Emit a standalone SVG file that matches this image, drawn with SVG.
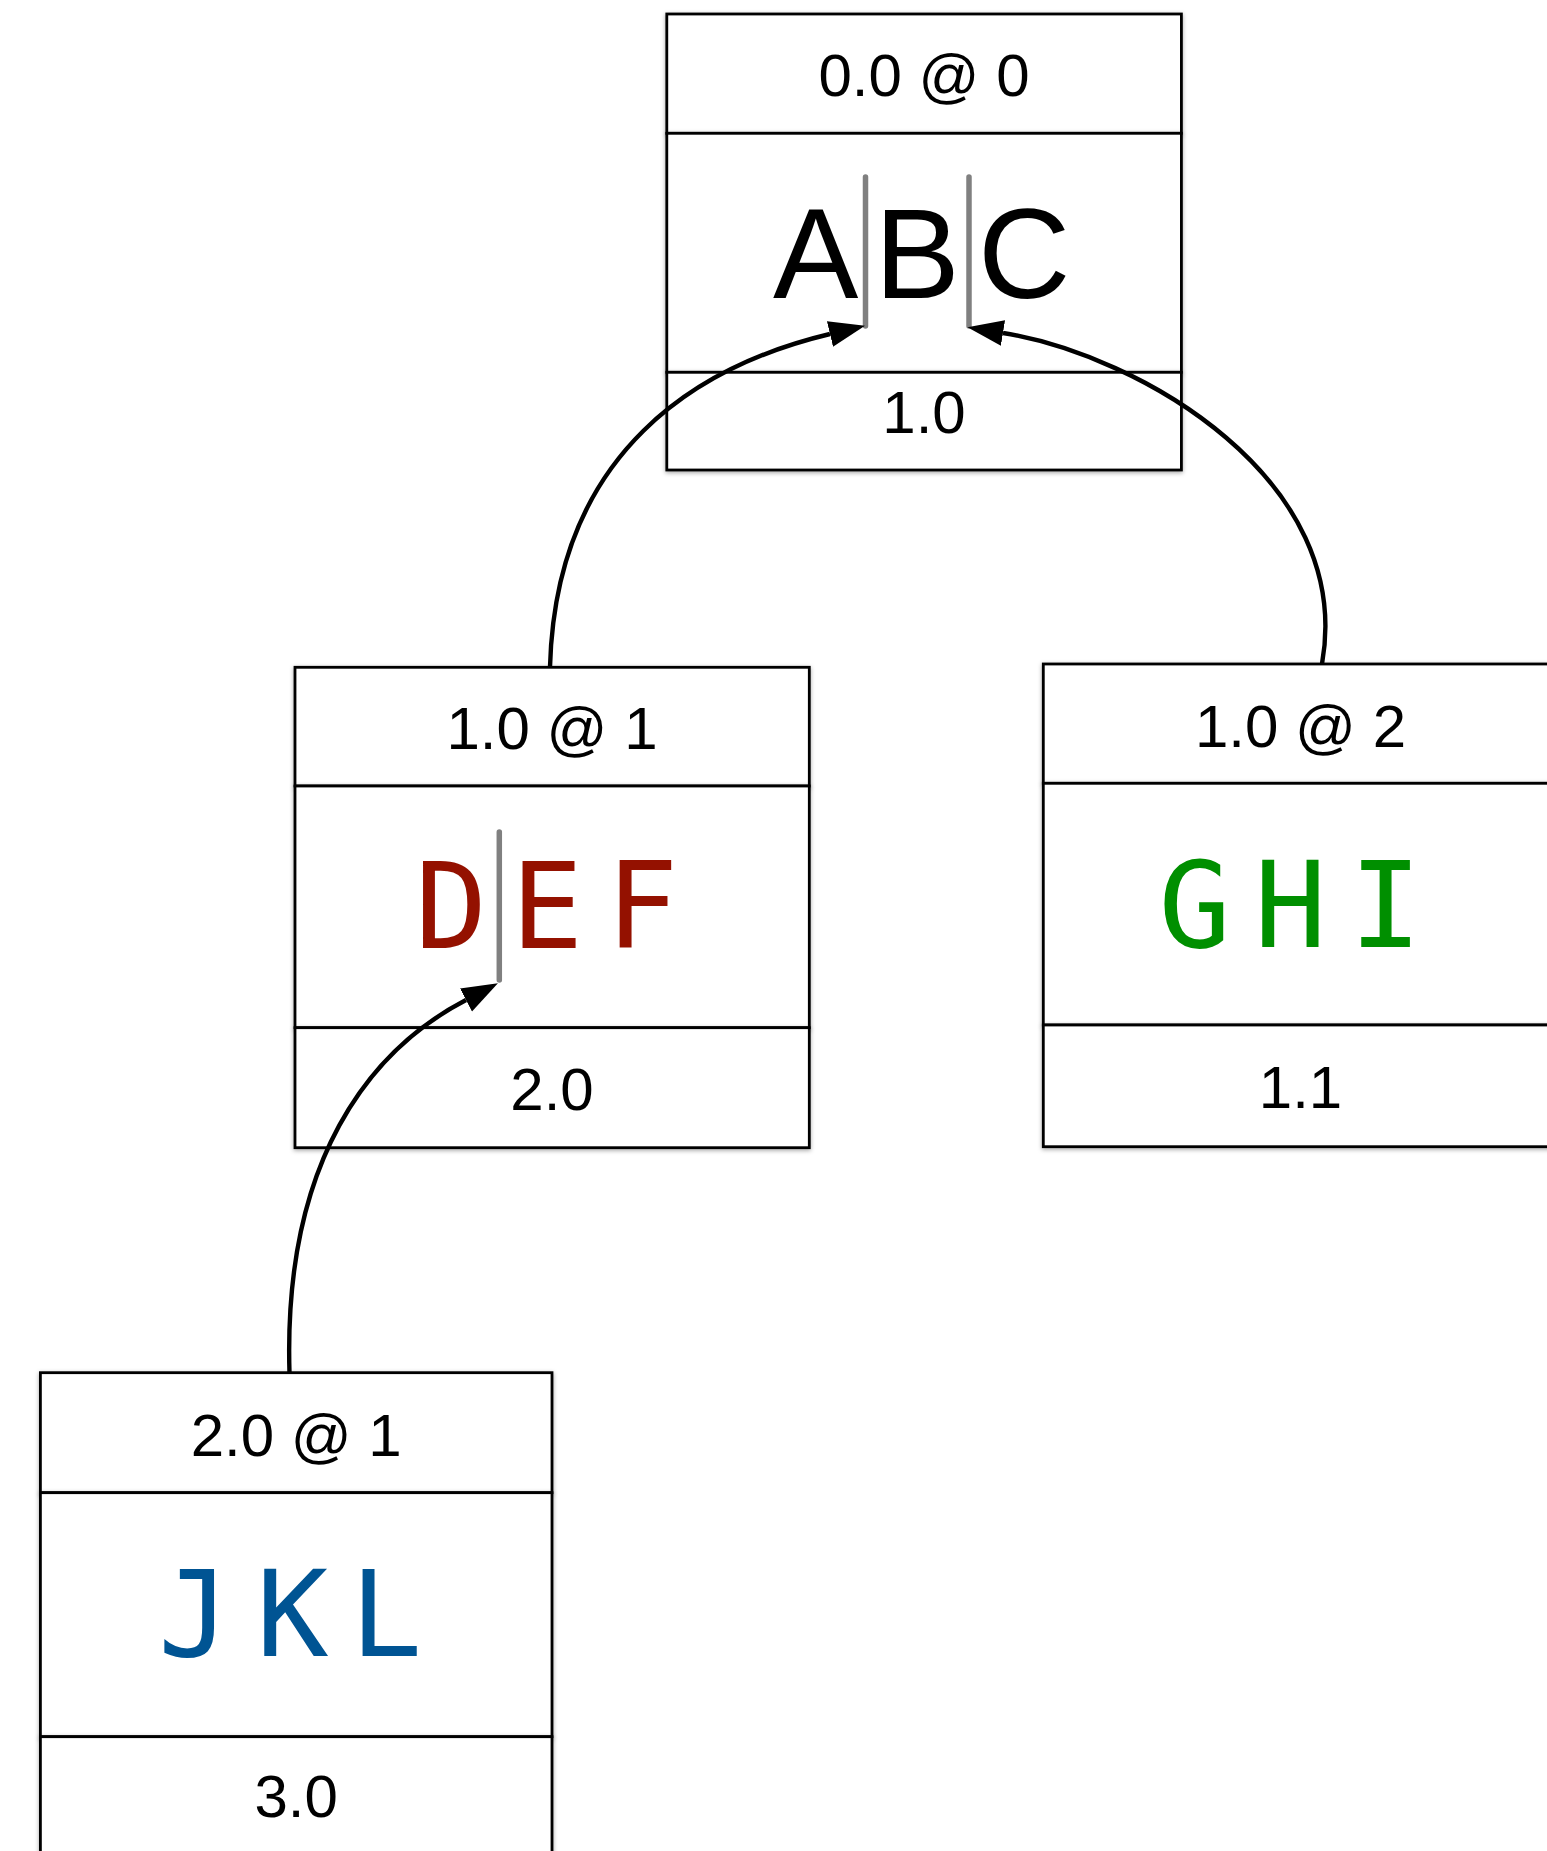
<svg xmlns="http://www.w3.org/2000/svg" width="1547" height="1851" viewBox="0 0 1547 1851">
  <style>
    .cell { fill: #ffffff; stroke: #000000; stroke-width: 2.8; filter: url(#shadow); }
    .lbl { font-family: "Liberation Sans", Arial, Helvetica, sans-serif; font-size: 60px; fill: #000000; text-anchor: middle; }
    .big { font-family: "Liberation Sans", Arial, Helvetica, sans-serif; font-size: 128px; fill: #000000; }
    .mono { font-family: "DejaVu Sans Mono", "Liberation Mono", monospace; font-size: 120px; text-anchor: middle; }
    .cursor { stroke: #808080; stroke-width: 5.5; stroke-linecap: round; fill: none; }
    .edge { fill: none; stroke: #000000; stroke-width: 4.4; marker-end: url(#arrow); }
  </style>
  <defs>
    <filter id="shadow" x="-5%" y="-5%" width="110%" height="115%">
      <feDropShadow dx="0" dy="1.5" stdDeviation="2" flood-color="#000000" flood-opacity="0.35"/>
    </filter>
    <marker id="arrow" markerUnits="userSpaceOnUse" markerWidth="38" markerHeight="28" refX="0" refY="13" orient="auto">
      <path d="M0,0 L36,13 L0,26 Z" fill="#000000"/>
    </marker>
  </defs>
  <rect width="1547" height="1851" fill="#ffffff"/>

  <!-- root node -->
  <g id="node-abc">
    <rect class="cell" x="666.8" y="14" width="514.6" height="119.3"/>
    <rect class="cell" x="666.8" y="133.3" width="514.6" height="239"/>
    <rect class="cell" x="666.8" y="372.3" width="514.6" height="97.7"/>
    <text class="lbl" x="924" y="96">0.0 @ 0</text>
    <text class="big" y="298"><tspan x="773">A</tspan><tspan x="874.5">B</tspan><tspan x="978">C</tspan></text>
    <line class="cursor" x1="865.5" y1="177" x2="865.5" y2="326"/>
    <line class="cursor" x1="969" y1="177" x2="969" y2="326"/>
    <text class="lbl" x="924" y="433">1.0</text>
  </g>

  <!-- left child -->
  <g id="node-def">
    <rect class="cell" x="295" y="667.3" width="514.3" height="118.7"/>
    <rect class="cell" x="295" y="786" width="514.3" height="241.7"/>
    <rect class="cell" x="295" y="1027.7" width="514.3" height="120"/>
    <text class="lbl" x="552" y="749">1.0 @ 1</text>
    <text class="mono" y="947.7" fill="#941100"><tspan x="451">D</tspan><tspan x="547">E</tspan><tspan x="642">F</tspan></text>
    <line class="cursor" x1="499.3" y1="832" x2="499.3" y2="980"/>
    <text class="lbl" x="552" y="1110">2.0</text>
  </g>

  <!-- right child -->
  <g id="node-ghi">
    <rect class="cell" x="1043.3" y="664" width="514.6" height="119.3"/>
    <rect class="cell" x="1043.3" y="783.3" width="514.6" height="241.7"/>
    <rect class="cell" x="1043.3" y="1025" width="514.6" height="121.7"/>
    <text class="lbl" x="1300.5" y="746.7">1.0 @ 2</text>
    <text class="mono" y="946.7" fill="#008F00"><tspan x="1194.7">G</tspan><tspan x="1290.3">H</tspan><tspan x="1385.5">I</tspan></text>
    <text class="lbl" x="1300.5" y="1108.3">1.1</text>
  </g>

  <!-- grandchild -->
  <g id="node-jkl">
    <rect class="cell" x="40.4" y="1372.7" width="511.6" height="120"/>
    <rect class="cell" x="40.4" y="1492.7" width="511.6" height="244"/>
    <rect class="cell" x="40.4" y="1736.7" width="511.6" height="130"/>
    <text class="lbl" x="296.2" y="1456">2.0 @ 1</text>
    <text class="mono" y="1656" fill="#005493"><tspan x="194">J</tspan><tspan x="292.3">K</tspan><tspan x="386">L</tspan></text>
    <text class="lbl" x="296.2" y="1816.7">3.0</text>
  </g>

  <!-- connectors -->
  <g id="connectors">
    <path class="edge" d="M550,667 C556,450 700,365 830,334"/>
    <path class="edge" d="M1322,664 C1355,480 1140,355 1003,333"/>
    <path class="edge" d="M289.5,1373 C283,1160 370,1050 466,1000"/>
  </g>
</svg>
